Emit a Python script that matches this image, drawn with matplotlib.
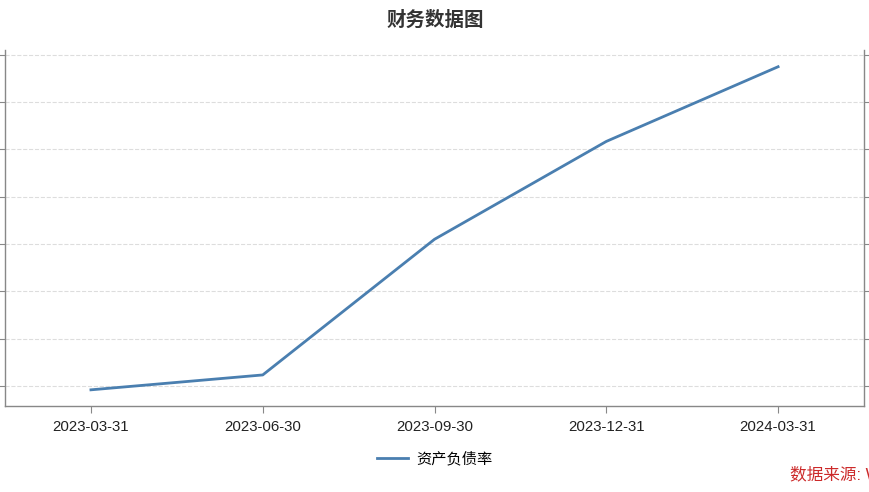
import matplotlib
matplotlib.use('Agg')
import matplotlib.pyplot as plt

plt.rcParams['font.family'] = ['Liberation Sans', 'Noto Sans CJK SC', 'DejaVu Sans']

dates = ['2023-03-31', '2023-06-30', '2023-09-30', '2023-12-31', '2024-03-31']
debt_ratio = [51.83, 52.46, 58.20, 62.34, 65.50]
y_ticks = [52, 54, 56, 58, 60, 62, 64, 66]

fig = plt.figure(figsize=(8.7, 4.92), dpi=100)
ax = fig.add_axes([0.0058, 0.175, 0.9873, 0.723])

x = list(range(len(dates)))
ax.plot(x, debt_ratio, color='#4a7fb0', linewidth=2, label='资产负债率')

ax.set_xlim(-0.5, 4.5)
ax.set_ylim(51.15, 66.2)
ax.set_xticks(x)
ax.set_xticklabels(dates, fontsize=10.8, color='#222222')
ax.set_yticks(y_ticks)
ax.set_yticklabels([])
ax.tick_params(axis='y', which='both', left=True, right=True, length=5, color='#888888')
ax.tick_params(axis='x', length=5, color='#888888', pad=5)

ax.grid(axis='y', linestyle='--', color='#dddddd', linewidth=0.8)
ax.spines['top'].set_visible(False)
for s in ['left', 'right', 'bottom']:
    ax.spines[s].set_color('#888888')
    ax.spines[s].set_linewidth(1.0)

fig.suptitle('财务数据图', y=0.978, fontsize=14, fontweight='bold', color='#333333')
fig.legend(loc='center', bbox_to_anchor=(0.5, 0.067), frameon=False, fontsize=11,
           handlelength=2.0, handletextpad=0.6)
fig.text(0.908, 0.026, '数据来源: Wind', color='#cc2a2a', fontsize=12, ha='left')

fig.savefig('out.png', dpi=100)
